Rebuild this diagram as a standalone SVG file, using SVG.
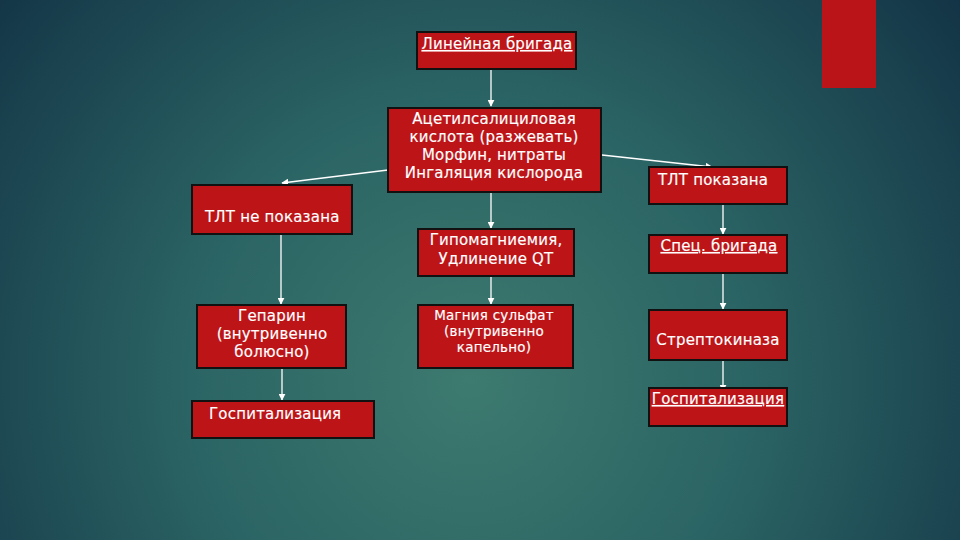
<svg xmlns="http://www.w3.org/2000/svg" width="960" height="540" viewBox="0 0 960 540">
<defs>
<radialGradient id="bg" cx="470" cy="380" r="620" gradientUnits="userSpaceOnUse">
<stop offset="0" stop-color="#3d7a6f"/>
<stop offset="0.45" stop-color="#2b6464"/>
<stop offset="1" stop-color="#133446"/>
</radialGradient>
<marker id="ah" viewBox="0 0 10 10" refX="9" refY="5" markerWidth="7" markerHeight="7" orient="auto" markerUnits="userSpaceOnUse">
<path d="M0,0 L10,5 L0,10 z" fill="#ffffff"/>
</marker>
<style>
.box{fill:#bd1418;stroke:#111111;stroke-width:2}
.t{font-family:"DejaVu Sans","Liberation Sans",sans-serif;font-size:15px;letter-spacing:0.2px;fill:#ffffff;stroke:#ffffff;stroke-width:0.15}
.s{font-size:13.5px;letter-spacing:0.2px}
.c{text-anchor:middle}
.u{text-decoration:underline}
.ln{stroke:#ffffff;stroke-width:1.3;fill:none;marker-end:url(#ah)}
</style>
</defs>
<rect width="960" height="540" fill="url(#bg)"/>
<rect x="822" y="0" width="54" height="88" fill="#bb1418"/>

<g id="connectors">
<line class="ln" x1="491" y1="70" x2="491" y2="106"/>
<line class="ln" x1="388" y1="170" x2="282" y2="183"/>
<line class="ln" x1="602" y1="155" x2="712" y2="167"/>
<line class="ln" x1="491" y1="193" x2="491" y2="228"/>
<line class="ln" x1="491" y1="277" x2="491" y2="304"/>
<line class="ln" x1="281" y1="235" x2="281" y2="304"/>
<line class="ln" x1="282" y1="369" x2="282" y2="400"/>
<line class="ln" x1="723" y1="205" x2="723" y2="234"/>
<line class="ln" x1="723" y1="274" x2="723" y2="309"/>
<line class="ln" x1="723" y1="361" x2="723" y2="391"/>
</g>

<g id="n1"><rect class="box" x="417" y="32" width="159" height="37"/>
<text class="t c u" x="497" y="49">Линейная бригада</text></g>

<g id="n2"><rect class="box" x="388" y="108" width="213" height="84"/>
<text class="t c" x="494" y="124">Ацетилсалициловая</text>
<text class="t c" x="494" y="142">кислота (разжевать)</text>
<text class="t c" x="494" y="160">Морфин, нитраты</text>
<text class="t c" x="494" y="178">Ингаляция кислорода</text></g>

<g id="n3"><rect class="box" x="192" y="185" width="160" height="49"/>
<text class="t" x="205" y="222">ТЛТ не показана</text></g>

<g id="n4"><rect class="box" x="649" y="167" width="138" height="37"/>
<text class="t" x="658" y="185">ТЛТ показана</text></g>

<g id="n5"><rect class="box" x="418" y="229" width="156" height="47"/>
<text class="t c" x="496" y="245">Гипомагниемия,</text>
<text class="t c" x="496" y="264">Удлинение QT</text></g>

<g id="n6"><rect class="box" x="649" y="235" width="138" height="38"/>
<text class="t c u" x="719" y="251">Спец. бригада</text></g>

<g id="n7"><rect class="box" x="197" y="305" width="149" height="63"/>
<text class="t c" x="272" y="321">Гепарин</text>
<text class="t c" x="272" y="339">(внутривенно</text>
<text class="t c" x="272" y="357">болюсно)</text></g>

<g id="n8"><rect class="box" x="418" y="305" width="155" height="63"/>
<text class="t s c" x="494" y="320">Магния сульфат</text>
<text class="t s c" x="494" y="336">(внутривенно</text>
<text class="t s c" x="494" y="352">капельно)</text></g>

<g id="n9"><rect class="box" x="649" y="310" width="138" height="50"/>
<text class="t c" x="718" y="345">Стрептокиназа</text></g>

<g id="n10"><rect class="box" x="192" y="401" width="182" height="37"/>
<text class="t" x="209" y="419">Госпитализация</text></g>

<g id="n11"><rect class="box" x="649" y="388" width="138" height="38"/>
<text class="t c u" x="718" y="404">Госпитализация</text></g>
</svg>
